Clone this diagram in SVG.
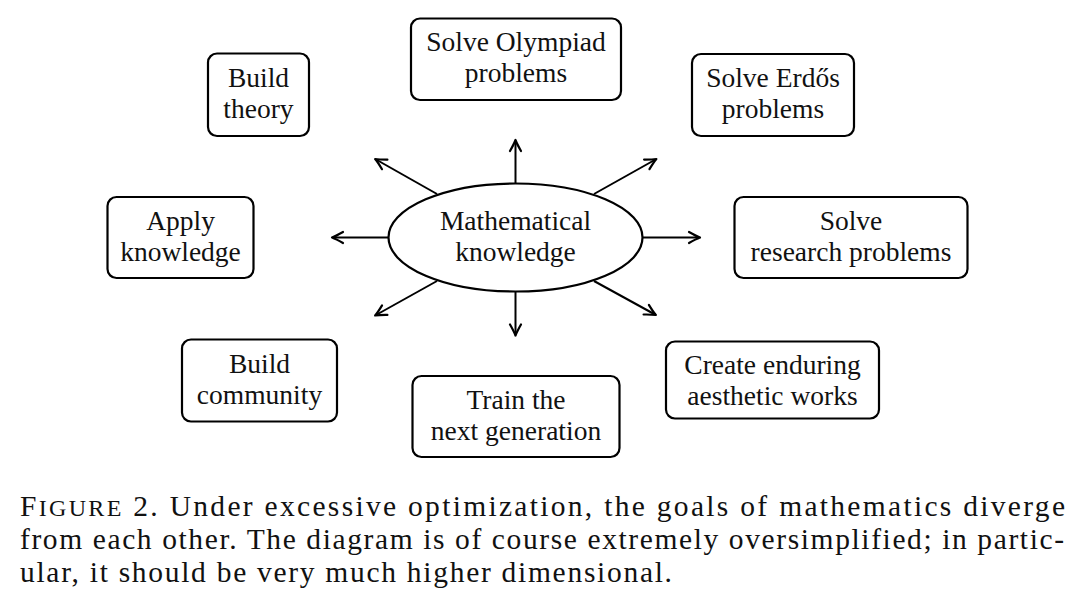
<svg xmlns="http://www.w3.org/2000/svg" width="1080" height="607" viewBox="0 0 1080 607">
<style>
  .box { fill: #fff; stroke: #000; stroke-width: 2.2; }
  .ell { fill: #fff; stroke: #000; stroke-width: 2.2; }
  .lbl { font-family: "Liberation Serif", "Times New Roman", serif; font-size: 27.5px; fill: #111; text-anchor: middle; }
  .cap { font-family: "Liberation Serif", "Times New Roman", serif; font-size: 29.5px; fill: #111; }
  .conn line { stroke: #000; stroke-width: 2; fill: none; marker-end: url(#arr); }
</style>
<defs>
  <marker id="arr" markerUnits="userSpaceOnUse" viewBox="-13 -8 16 16" markerWidth="16" markerHeight="16" refX="0" refY="0" orient="auto">
    <path d="M-10,-5.5 Q-3,-1.5 1,0 Q-3,1.5 -10,5.5" fill="none" stroke="#000" stroke-width="2.2" stroke-linecap="round" stroke-linejoin="round"/>
  </marker>
</defs>
<rect width="1080" height="607" fill="#fff"/>

<g id="connectors" class="conn">
  <line x1="515.5" y1="183.5" x2="515.5" y2="141"/>
  <line x1="515.5" y1="291.5" x2="515.5" y2="334.5"/>
  <line x1="388.5" y1="237.5" x2="333" y2="237.5"/>
  <line x1="642.5" y1="237.5" x2="699" y2="237.5"/>
  <line x1="437" y1="194" x2="376" y2="159.5"/>
  <line x1="594" y1="194" x2="655.5" y2="159.5"/>
  <line x1="437" y1="281" x2="376" y2="315"/>
  <line x1="594" y1="281" x2="655" y2="314.5"/>
</g>

<g id="center">
  <ellipse class="ell" cx="515.5" cy="237.5" rx="127" ry="54"/>
  <text class="lbl" x="515.5" y="229.5">Mathematical</text>
  <text class="lbl" x="515.5" y="260.5">knowledge</text>
</g>

<g id="build-theory">
  <rect class="box" x="208" y="53.5" width="101" height="82.5" rx="9"/>
  <text class="lbl" x="258.5" y="87">Build</text>
  <text class="lbl" x="258.5" y="118">theory</text>
</g>

<g id="olympiad">
  <rect class="box" x="411" y="18.5" width="210" height="81.5" rx="9"/>
  <text class="lbl" x="516" y="51">Solve Olympiad</text>
  <text class="lbl" x="516" y="82">problems</text>
</g>

<g id="erdos">
  <rect class="box" x="692" y="54" width="162" height="82" rx="9"/>
  <text class="lbl" x="773" y="87">Solve Erdős</text>
  <text class="lbl" x="773" y="118">problems</text>
</g>

<g id="apply">
  <rect class="box" x="107.5" y="197" width="146" height="81" rx="9"/>
  <text class="lbl" x="180.5" y="229.5">Apply</text>
  <text class="lbl" x="180.5" y="260.5">knowledge</text>
</g>

<g id="research">
  <rect class="box" x="734.5" y="197" width="233" height="81" rx="9"/>
  <text class="lbl" x="851" y="229.5">Solve</text>
  <text class="lbl" x="851" y="260.5">research problems</text>
</g>

<g id="community">
  <rect class="box" x="182" y="339.5" width="155" height="82" rx="9"/>
  <text class="lbl" x="259.5" y="372.5">Build</text>
  <text class="lbl" x="259.5" y="403.5">community</text>
</g>

<g id="train">
  <rect class="box" x="412.5" y="376" width="207" height="81" rx="9"/>
  <text class="lbl" x="516" y="408.5">Train the</text>
  <text class="lbl" x="516" y="439.5">next generation</text>
</g>

<g id="enduring">
  <rect class="box" x="666" y="341.5" width="213" height="77" rx="9"/>
  <text class="lbl" x="772.5" y="374">Create enduring</text>
  <text class="lbl" x="772.5" y="405">aesthetic works</text>
</g>

<g id="caption">
  <text class="cap" x="20" y="516" textLength="1045" lengthAdjust="spacing">F<tspan font-size="24">IGURE</tspan> 2. Under excessive optimization, the goals of mathematics diverge</text>
  <text class="cap" x="20" y="549" textLength="1044" lengthAdjust="spacing">from each other. The diagram is of course extremely oversimplified; in partic-</text>
  <text class="cap" x="20" y="582" textLength="652" lengthAdjust="spacing">ular, it should be very much higher dimensional.</text>
</g>
</svg>
